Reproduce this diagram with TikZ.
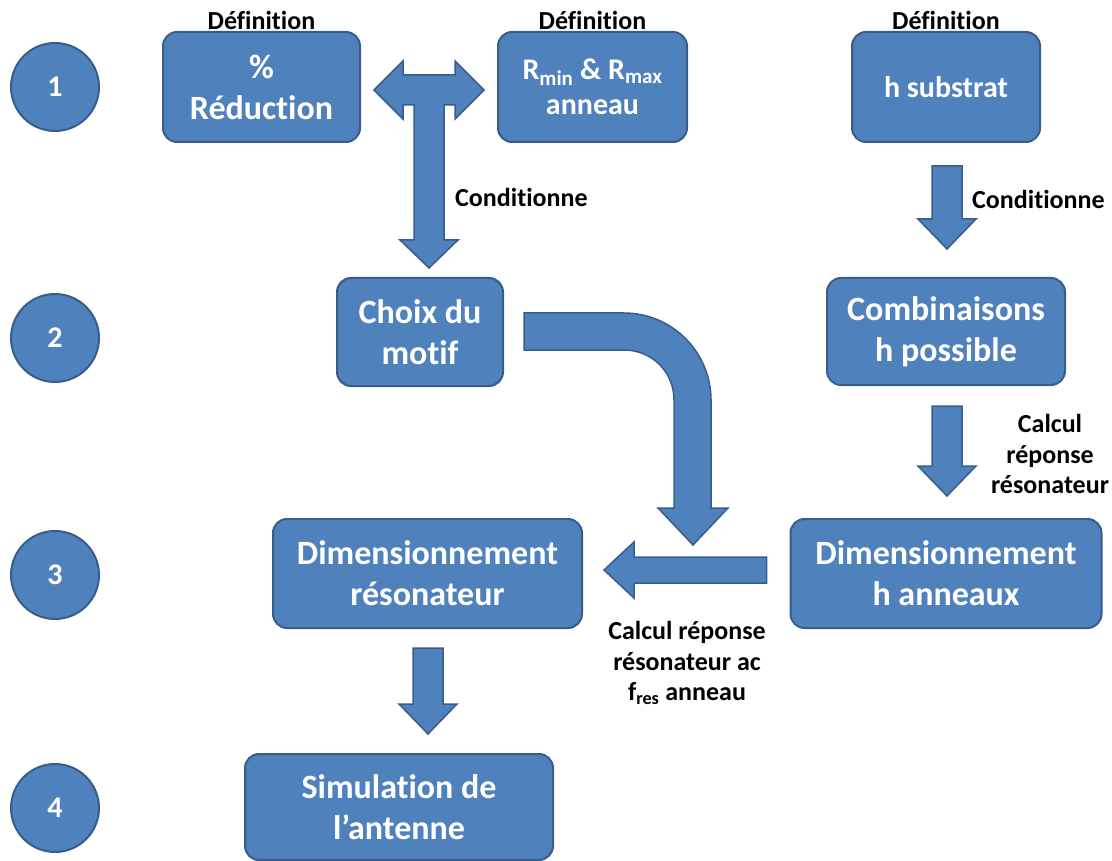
\documentclass[tikz,border=0pt]{standalone}
\usepackage{fontspec}
\setmainfont{Carlito}[Ligatures={NoCommon,NoRare,NoContextual}]
\usetikzlibrary{positioning,calc}

\definecolor{boxblue}{HTML}{4F81BD}
\definecolor{edgeblue}{HTML}{385D8A}

\newcommand{\blockdown}[2]{%
  \path[blockarrow] let \p1=(#1), \p2=(#2) in
    (\x1-15pt,\y1) -- (\x1+15pt,\y1) -- (\x1+15pt,\y2+30pt) -- (\x1+29pt,\y2+30pt)
    -- (\x1,\y2) -- (\x1-29pt,\y2+30pt) -- (\x1-15pt,\y2+30pt) -- cycle;}
\newcommand{\blockleft}[2]{%
  \path[blockarrow] let \p1=(#1), \p2=(#2) in
    (\x1,\y1+13pt) -- (\x2+30pt,\y1+13pt) -- (\x2+30pt,\y1+28pt) -- (\x2,\y1)
    -- (\x2+30pt,\y1-28pt) -- (\x2+30pt,\y1-13pt) -- (\x1,\y1-13pt) -- cycle;}

\begin{document}
\begin{tikzpicture}[x=1pt,y=-1pt,
    stage/.style={draw=edgeblue,fill=boxblue,line width=2pt,rounded corners=14pt,
      text=white,align=center,inner sep=0pt,font=\fontsize{34}{41}\selectfont\bfseries},
    small stage/.style={stage,font=\fontsize{30}{35}\selectfont\bfseries},
    num/.style={circle,draw=edgeblue,fill=boxblue,line width=2pt,minimum size=88pt,
      text=white,font=\fontsize{30}{36}\selectfont\bfseries},
    note/.style={align=center,inner sep=0pt,font=\fontsize{26}{30.5}\selectfont\bfseries},
    blockarrow/.style={draw=edgeblue,fill=boxblue,line width=1.5pt,line join=miter}]
  \useasboundingbox (0,0) rectangle (1112,861);

  % step numbers
  \foreach \n/\yy in {1/87,2/338,3/575,4/808}
    \node[num] (n\n) at (55,\yy) {\n};

  % boxes
  \node[stage,minimum width=197pt,minimum height=110pt] (red) at (261.5,87) {\%\\Réduction};
  \node[small stage,minimum width=189pt,minimum height=110pt] (rmin) at (592.5,87)
    {R\textsubscript{min} \& R\textsubscript{max}\\anneau};
  \node[small stage,minimum width=188pt,minimum height=110pt] (hsub) at (946,87) {h substrat};
  \node[stage,minimum width=166pt,minimum height=108pt] (choix) at (420,332) {Choix du\\motif};
  \node[stage,minimum width=238pt,minimum height=107pt] (comb) at (946,331.5) {Combinaisons\\h possible};
  \node[stage,minimum width=309pt,minimum height=109pt] (res) at (427.5,573.5) {Dimensionnement\\résonateur};
  \node[stage,minimum width=311pt,minimum height=109pt] (anx) at (946,573.5) {Dimensionnement\\h anneaux};
  \node[stage,minimum width=308pt,minimum height=106pt] (sim) at (399,807) {Simulation de\\l’antenne};

  \node[note,above=1.5pt of red] (def1) {Définition};
  \node[note,above=1.5pt of rmin] (def2) {Définition};
  \node[note,above=1.5pt of hsub] (def3) {Définition};

  % T arrow
  \coordinate (tc) at ($(red.east)!.5!(rmin.west)+(0,3)$);
  \path[blockarrow,shift={(tc)}] (-55,0) -- (-26,-29) -- (-26,-15) -- (26,-15) -- (26,-29)
    -- (55,0) -- (26,29) -- (26,15) -- (15,15) -- (15,150) -- (29,150) -- (0,178)
    -- (-29,150) -- (-15,150) -- (-15,15) -- (-26,15) -- (-26,29) -- cycle;
  \node[note,anchor=west] (cond1) at ($(tc)+(26,107)$) {Conditionne};

  % right column
  \coordinate (a1) at ($(hsub.south)+(1,23)$);
  \coordinate (a2) at ($(comb.north)+(1,-28)$);
  \blockdown{a1}{a2}
  \node[note,anchor=west] (cond2) at ($(hsub.south)+(26,56)$) {Conditionne};
  \coordinate (b1) at ($(comb.south)+(1,20)$);
  \coordinate (b2) at ($(anx.north)+(1,-22)$);
  \blockdown{b1}{b2}
  \node[note] (calc1) at ($(comb.south east)+(-16,68)$) {Calcul\\réponse\\résonateur};

  % bent arrow
  \coordinate (ca) at ($(choix.east)+(20,-2)$);
  \path[blockarrow,shift={(ca)}] (0,-17) -- (100,-17) .. controls (148,-17) and (187,22) .. (187,70)
    -- (187,178) -- (204,178) -- (169,215) -- (134,178) -- (150,178) -- (150,70)
    .. controls (150,42) and (128,20) .. (100,20) -- (0,20) -- cycle;

  % back to the resonator
  \coordinate (lt) at ($(anx.west)+(-23,-3.5)$);
  \coordinate (lh) at ($(res.east)+(21,-3.5)$);
  \blockleft{lt}{lh}
  \node[note] (calc2) at ($(res.south east)+(104,34)$)
    {Calcul réponse\\résonateur ac\\f\textsubscript{res} anneau};

  \coordinate (c1) at ($(res.south)+(0.5,19)$);
  \coordinate (c2) at ($(res.south |- sim.north)+(0.5,-19)$);
  \blockdown{c1}{c2}
\end{tikzpicture}
\end{document}
